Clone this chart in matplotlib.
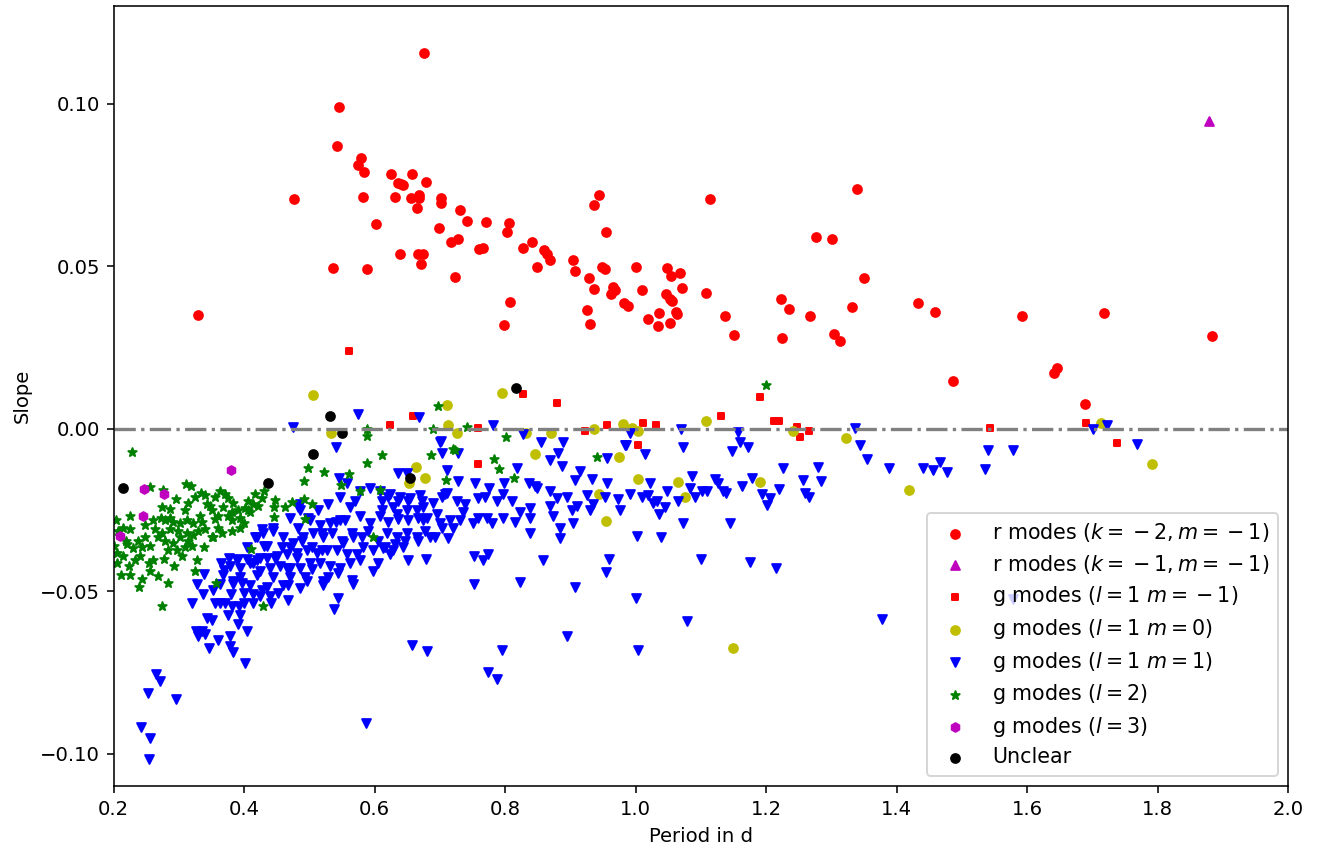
import numpy as np
import matplotlib
matplotlib.use("Agg")
import matplotlib.pyplot as plt

# (period in d, slope), one list per mode class
r_k2 = [
    (0.330, 0.0348), (0.477, 0.0705), (0.536, 0.0495), (0.543, 0.0868), (0.546, 0.0988),
    (0.579, 0.0831), (0.575, 0.0812), (0.584, 0.0788), (0.582, 0.0711), (0.589, 0.0492),
    (0.602, 0.0628), (0.625, 0.0782), (0.631, 0.0711), (0.636, 0.0754), (0.641, 0.0751),
    (0.644, 0.0748), (0.639, 0.0538), (0.657, 0.0782), (0.656, 0.0708), (0.668, 0.0717),
    (0.668, 0.0708), (0.665, 0.0680), (0.667, 0.0538), (0.674, 0.0538), (0.671, 0.0505),
    (0.676, 0.1157), (0.679, 0.0760), (0.699, 0.0618), (0.702, 0.0708), (0.702, 0.0695),
    (0.717, 0.0575), (0.723, 0.0465), (0.728, 0.0582), (0.731, 0.0671), (0.742, 0.0637),
    (0.760, 0.0551), (0.766, 0.0554), (0.771, 0.0634), (0.798, 0.0317), (0.803, 0.0606),
    (0.806, 0.0631), (0.808, 0.0388), (0.828, 0.0554), (0.841, 0.0575), (0.849, 0.0498),
    (0.860, 0.0548), (0.864, 0.0538), (0.869, 0.0520), (0.904, 0.0520), (0.907, 0.0486),
    (0.926, 0.0366), (0.929, 0.0462), (0.930, 0.0323), (0.937, 0.0428), (0.937, 0.0689),
    (0.944, 0.0720), (0.949, 0.0498), (0.953, 0.0492), (0.955, 0.0606), (0.962, 0.0415),
    (0.966, 0.0434), (0.969, 0.0425), (0.982, 0.0385), (0.989, 0.0378), (1.001, 0.0498),
    (1.010, 0.0425), (1.019, 0.0338), (1.035, 0.0314), (1.036, 0.0354), (1.047, 0.0415),
    (1.049, 0.0495), (1.053, 0.0400), (1.053, 0.0326), (1.054, 0.0468), (1.056, 0.0391),
    (1.062, 0.0357), (1.064, 0.0351), (1.068, 0.0480), (1.071, 0.0431), (1.108, 0.0418),
    (1.114, 0.0705), (1.137, 0.0345), (1.151, 0.0289), (1.223, 0.0397), (1.224, 0.0280),
    (1.235, 0.0369), (1.267, 0.0345), (1.277, 0.0588), (1.301, 0.0582), (1.304, 0.0292),
    (1.313, 0.0268), (1.332, 0.0375), (1.339, 0.0738), (1.350, 0.0462), (1.433, 0.0385),
    (1.459, 0.0357), (1.487, 0.0145), (1.592, 0.0345), (1.642, 0.0172), (1.646, 0.0185),
    (1.689, 0.0074), (1.718, 0.0354), (1.884, 0.0286),
]

r_k1 = [(1.879, 0.0945)]

g_l1_mm1 = [
    (0.561, 0.0240), (0.624, 0.0010), (0.659, 0.0037), (0.759, 0.0003), (0.759, -0.0108),
    (0.828, 0.0105), (0.880, 0.0080), (0.923, -0.0009), (0.956, 0.0012), (1.004, -0.0052),
    (1.012, 0.0018), (1.032, 0.0012), (1.131, 0.0040), (1.191, 0.0098), (1.212, 0.0022),
    (1.220, 0.0022), (1.247, 0.0006), (1.252, -0.0025), (1.266, -0.0009), (1.543, 0.0003),
    (1.690, 0.0018), (1.738, -0.0046),
]

g_l1_m0 = [
    (0.506, 0.0102), (0.534, -0.0013), (0.653, -0.0169), (0.664, -0.0117), (0.678, -0.0151),
    (0.711, 0.0071), (0.713, 0.0012), (0.727, -0.0015), (0.796, 0.0108), (0.832, -0.0015),
    (0.846, -0.0077), (0.871, -0.0015), (0.937, -0.0003), (0.944, -0.0203), (0.955, -0.0286),
    (0.975, -0.0089), (0.981, 0.0015), (0.995, 0.0003), (1.004, -0.0009), (1.004, -0.0154),
    (1.065, -0.0166), (1.076, -0.0212), (1.108, 0.0022), (1.149, -0.0674), (1.191, -0.0166),
    (1.241, -0.0009), (1.323, -0.0028), (1.419, -0.0188), (1.713, 0.0018), (1.792, -0.0108),
]

g_l1_m1 = [
    (0.265, -0.0754), (0.271, -0.0778), (0.253, -0.0815), (0.296, -0.0831), (0.242, -0.0917),
    (0.256, -0.0951), (0.254, -0.1018), (0.402, -0.0723), (0.587, -0.0905), (0.658, -0.0665),
    (0.680, -0.0686), (0.320, -0.0538), (0.326, -0.0622), (0.336, -0.0622), (0.340, -0.0631),
    (0.330, -0.0637), (0.346, -0.0674), (0.360, -0.0652), (0.379, -0.0637), (0.379, -0.0668),
    (0.383, -0.0689), (0.405, -0.0622), (0.343, -0.0582), (0.351, -0.0588), (0.375, -0.0575),
    (0.394, -0.0575), (0.391, -0.0600), (0.328, -0.0477), (0.339, -0.0449), (0.337, -0.0508),
    (0.356, -0.0538), (0.363, -0.0538), (0.371, -0.0538), (0.382, -0.0545), (0.392, -0.0545),
    (0.400, -0.0538), (0.414, -0.0538), (0.441, -0.0538), (0.467, -0.0529), (0.365, -0.0415),
    (0.368, -0.0452), (0.363, -0.0477), (0.383, -0.0468), (0.380, -0.0508), (0.397, -0.0474),
    (0.400, -0.0505), (0.414, -0.0508), (0.427, -0.0498), (0.440, -0.0514), (0.452, -0.0505),
    (0.377, -0.0397), (0.391, -0.0403), (0.405, -0.0366), (0.417, -0.0335), (0.428, -0.0308),
    (0.444, -0.0305), (0.431, -0.0360), (0.425, -0.0397), (0.414, -0.0415), (0.448, -0.0397),
    (0.458, -0.0366), (0.466, -0.0428), (0.481, -0.0397), (0.467, -0.0483), (0.494, -0.0458),
    (0.521, -0.0483), (0.504, -0.0431), (0.529, -0.0458), (0.471, -0.0366), (0.489, -0.0345),
    (0.504, -0.0366), (0.520, -0.0375), (0.544, -0.0446), (0.538, -0.0554), (0.544, -0.0520),
    (0.565, -0.0465), (0.605, -0.0415), (0.651, -0.0406), (0.679, -0.0400), (0.471, -0.0274),
    (0.483, -0.0243), (0.483, -0.0305), (0.498, -0.0274), (0.514, -0.0252), (0.529, -0.0231),
    (0.541, -0.0289), (0.555, -0.0283), (0.562, -0.0240), (0.570, -0.0222), (0.578, -0.0268),
    (0.520, -0.0323), (0.535, -0.0323), (0.550, -0.0345), (0.565, -0.0323), (0.581, -0.0335),
    (0.590, -0.0314), (0.612, -0.0222), (0.621, -0.0212), (0.636, -0.0222), (0.651, -0.0222),
    (0.612, -0.0252), (0.628, -0.0243), (0.621, -0.0289), (0.636, -0.0277), (0.651, -0.0283),
    (0.667, -0.0274), (0.605, -0.0345), (0.616, -0.0366), (0.631, -0.0354), (0.647, -0.0345),
    (0.667, -0.0345), (0.677, -0.0314), (0.693, -0.0335), (0.703, -0.0305), (0.673, -0.0222),
    (0.690, -0.0228), (0.703, -0.0212), (0.711, -0.0197), (0.636, -0.0138), (0.650, -0.0138),
    (0.711, -0.0129), (0.702, -0.0037), (0.703, -0.0074), (0.575, 0.0046), (0.475, 0.0006),
    (0.541, -0.0058), (0.546, -0.0151), (0.668, 0.0034), (0.486, -0.0252), (0.501, -0.0283),
    (0.517, -0.0298), (0.532, -0.0292), (0.547, -0.0283), (0.593, -0.0292), (0.609, -0.0268),
    (0.624, -0.0200), (0.639, -0.0212), (0.654, -0.0215), (0.670, -0.0206), (0.634, -0.0262),
    (0.650, -0.0252), (0.665, -0.0252), (0.674, -0.0283), (0.619, -0.0323), (0.634, -0.0335),
    (0.650, -0.0323), (0.665, -0.0335), (0.429, -0.0323), (0.445, -0.0314), (0.420, -0.0335),
    (0.435, -0.0360), (0.460, -0.0335), (0.475, -0.0351), (0.491, -0.0335), (0.506, -0.0320),
    (0.521, -0.0335), (0.552, -0.0351), (0.567, -0.0335), (0.582, -0.0366), (0.598, -0.0375),
    (0.613, -0.0369), (0.628, -0.0375), (0.644, -0.0366), (0.573, -0.0385), (0.558, -0.0385),
    (0.543, -0.0375), (0.527, -0.0375), (0.512, -0.0382), (0.496, -0.0375), (0.481, -0.0382),
    (0.466, -0.0385), (0.451, -0.0391), (0.435, -0.0397), (0.420, -0.0406), (0.405, -0.0400),
    (0.389, -0.0406), (0.379, -0.0422), (0.394, -0.0428), (0.409, -0.0415), (0.425, -0.0437),
    (0.440, -0.0428), (0.455, -0.0422), (0.471, -0.0428), (0.486, -0.0428), (0.501, -0.0415),
    (0.517, -0.0415), (0.532, -0.0422), (0.547, -0.0428), (0.562, -0.0415), (0.578, -0.0406),
    (0.521, -0.0468), (0.496, -0.0468), (0.471, -0.0458), (0.445, -0.0458), (0.420, -0.0452),
    (0.394, -0.0458), (0.370, -0.0435), (0.383, -0.0477), (0.409, -0.0483), (0.435, -0.0489),
    (0.460, -0.0483), (0.486, -0.0492), (0.425, -0.0514), (0.353, -0.0498), (0.567, -0.0477),
    (0.598, -0.0437), (0.624, -0.0385), (0.674, -0.0243), (0.593, -0.0182), (0.609, -0.0191),
    (0.578, -0.0191), (0.547, -0.0212), (0.558, -0.0169), (0.486, -0.0231), (0.700, -0.0043),
    (0.728, -0.0074), (0.728, -0.0163), (0.754, -0.0169), (0.776, -0.0182), (0.799, -0.0169),
    (0.819, -0.0120), (0.836, -0.0169), (0.846, -0.0178), (0.855, -0.0043), (0.869, -0.0098),
    (0.881, -0.0074), (0.887, -0.0114), (0.915, -0.0132), (0.907, -0.0157), (0.933, -0.0154),
    (0.869, -0.0191), (0.889, -0.0043), (0.956, -0.0092), (0.956, -0.0169), (0.984, -0.0052),
    (1.015, -0.0077), (1.022, -0.0169), (0.708, -0.0200), (0.726, -0.0222), (0.739, -0.0231),
    (0.759, -0.0215), (0.770, -0.0212), (0.788, -0.0222), (0.797, -0.0200), (0.811, -0.0222),
    (0.823, -0.0258), (0.838, -0.0246), (0.849, -0.0182), (0.869, -0.0237), (0.880, -0.0215),
    (0.895, -0.0212), (0.910, -0.0237), (0.926, -0.0206), (0.935, -0.0231), (0.953, -0.0212),
    (0.973, -0.0218), (0.992, -0.0200), (1.010, -0.0212), (1.027, -0.0228), (0.696, -0.0262),
    (0.716, -0.0283), (0.736, -0.0258), (0.759, -0.0274), (0.780, -0.0292), (0.797, -0.0274),
    (0.815, -0.0289), (0.838, -0.0274), (0.874, -0.0268), (0.884, -0.0305), (0.903, -0.0252),
    (0.930, -0.0252), (0.976, -0.0252), (0.752, -0.0391), (0.766, -0.0406), (0.774, -0.0385),
    (0.838, -0.0323), (0.884, -0.0338), (0.904, -0.0292), (1.002, -0.0332), (0.858, -0.0406),
    (0.960, -0.0400), (0.955, -0.0443), (0.752, -0.0477), (0.823, -0.0471), (0.907, -0.0489),
    (1.001, -0.0520), (0.680, -0.0274), (0.700, -0.0292), (0.720, -0.0305), (0.685, -0.0335),
    (0.713, -0.0338), (0.731, -0.0283), (0.751, -0.0292), (0.772, -0.0274), (0.796, -0.0683),
    (0.774, -0.0748), (0.788, -0.0772), (0.895, -0.0637), (1.004, -0.0680), (1.079, -0.0591),
    (1.100, -0.0403), (1.039, -0.0335), (1.073, -0.0292), (1.145, -0.0292), (1.175, -0.0412),
    (0.992, -0.0015), (0.986, -0.0052), (1.073, -0.0058), (1.070, -0.0003), (1.157, -0.0012),
    (1.160, -0.0043), (1.148, -0.0068), (1.172, -0.0058), (1.087, -0.0145), (1.084, -0.0182),
    (1.102, -0.0191), (1.109, -0.0191), (1.122, -0.0154), (1.134, -0.0191), (1.163, -0.0178),
    (1.091, -0.0212), (1.065, -0.0222), (1.048, -0.0191), (1.019, -0.0206), (1.033, -0.0222),
    (1.045, -0.0243), (1.036, -0.0262), (1.226, -0.0120), (1.280, -0.0117), (1.257, -0.0157),
    (1.284, -0.0163), (1.260, -0.0197), (1.266, -0.0212), (1.179, -0.0151), (1.127, -0.0169),
    (1.139, -0.0197), (1.220, -0.0185), (1.194, -0.0200), (1.206, -0.0215), (1.201, -0.0234),
    (1.216, -0.0428), (1.378, -0.0585), (1.336, 0.0003), (1.344, -0.0052), (1.355, -0.0095),
    (1.389, -0.0120), (1.441, -0.0123), (1.456, -0.0129), (1.467, -0.0102), (1.478, -0.0135),
    (1.540, -0.0065), (1.579, -0.0065), (1.536, -0.0126), (1.578, -0.0526), (1.701, -0.0003),
    (1.723, 0.0012), (1.769, -0.0049), (0.828, -0.0018), (0.781, 0.0012),
]

g_l2 = [
    (0.228, -0.0071), (0.256, -0.0181), (0.276, -0.0188), (0.697, 0.0068), (0.690, 0.0000),
    (0.589, 0.0000), (0.589, -0.0022), (0.612, -0.0080), (0.589, -0.0105), (0.687, -0.0083),
    (0.720, -0.0062), (0.498, -0.0120), (0.523, -0.0135), (0.492, -0.0160), (0.561, -0.0141),
    (0.548, -0.0175), (0.578, -0.0193), (0.609, -0.0188), (0.710, -0.0157), (0.448, -0.0221),
    (0.446, -0.0243), (0.474, -0.0225), (0.463, -0.0243), (0.492, -0.0218), (0.504, -0.0231),
    (0.446, -0.0271), (0.494, -0.0277), (0.598, -0.0335), (0.411, -0.0372), (0.357, -0.0474),
    (0.429, -0.0545), (0.274, -0.0545), (0.742, 0.0006), (0.802, -0.0025), (0.723, -0.0065),
    (0.783, -0.0095), (0.791, -0.0126), (0.814, -0.0151), (0.941, -0.0089), (1.200, 0.0135),
    (0.311, -0.0172), (0.319, -0.0178), (0.334, -0.0197), (0.325, -0.0212), (0.296, -0.0218),
    (0.314, -0.0228), (0.274, -0.0243), (0.287, -0.0249), (0.225, -0.0268), (0.261, -0.0280),
    (0.273, -0.0274), (0.279, -0.0283), (0.287, -0.0274), (0.291, -0.0289), (0.302, -0.0292),
    (0.313, -0.0283), (0.322, -0.0292), (0.336, -0.0289), (0.343, -0.0231), (0.356, -0.0212),
    (0.371, -0.0200), (0.375, -0.0215), (0.383, -0.0228), (0.417, -0.0203), (0.414, -0.0231),
    (0.402, -0.0246), (0.391, -0.0252), (0.382, -0.0258), (0.368, -0.0243), (0.351, -0.0252),
    (0.356, -0.0277), (0.382, -0.0283), (0.394, -0.0274), (0.409, -0.0258), (0.400, -0.0292),
    (0.360, -0.0305), (0.353, -0.0335), (0.339, -0.0366), (0.328, -0.0406), (0.293, -0.0422),
    (0.277, -0.0400), (0.261, -0.0406), (0.254, -0.0415), (0.241, -0.0391), (0.230, -0.0369),
    (0.221, -0.0354), (0.225, -0.0308), (0.215, -0.0305), (0.207, -0.0314), (0.205, -0.0382),
    (0.215, -0.0391), (0.224, -0.0422), (0.212, -0.0452), (0.225, -0.0452), (0.244, -0.0462),
    (0.268, -0.0455), (0.284, -0.0474), (0.239, -0.0489), (0.238, -0.0345), (0.248, -0.0335),
    (0.244, -0.0366), (0.268, -0.0335), (0.279, -0.0345), (0.291, -0.0351), (0.302, -0.0335),
    (0.310, -0.0366), (0.314, -0.0345), (0.320, -0.0360), (0.297, -0.0375), (0.284, -0.0375),
    (0.305, -0.0391), (0.274, -0.0320), (0.287, -0.0308), (0.299, -0.0314), (0.313, -0.0320),
    (0.322, -0.0329), (0.330, -0.0314), (0.340, -0.0308), (0.351, -0.0335), (0.366, -0.0323),
    (0.382, -0.0314), (0.394, -0.0305), (0.205, -0.0415), (0.406, -0.0252), (0.348, -0.0237),
    (0.360, -0.0268), (0.333, -0.0268), (0.310, -0.0252), (0.256, -0.0360), (0.233, -0.0406),
    (0.340, -0.0206), (0.363, -0.0191), (0.428, -0.0215), (0.431, -0.0191), (0.248, -0.0298),
    (0.264, -0.0308), (0.219, -0.0345), (0.201, -0.0360), (0.406, -0.0222), (0.421, -0.0237),
    (0.375, -0.0268), (0.325, -0.0437), (0.256, -0.0437), (0.204, -0.0283),
]

g_l3 = [(0.210, -0.0332), (0.245, -0.0268), (0.247, -0.0187), (0.277, -0.0200), (0.380, -0.0129)]

unclear = [(0.215, -0.0184), (0.437, -0.0169), (0.506, -0.0077), (0.532, 0.0040),
           (0.550, -0.0015), (0.654, -0.0151), (0.817, 0.0126)]

fig = plt.figure(figsize=(1317 / 141, 849 / 141), dpi=141)
ax = fig.add_axes([0.0862, 0.0742, 0.978 - 0.0862, 0.9929 - 0.0742])


def scat(pts, color, marker, size, label):
    arr = np.array(pts)
    ax.scatter(arr[:, 0], arr[:, 1], c=color, marker=marker, s=size, label=label)


# "{}" before the minus keeps the old binary-minus spacing ("= − 2")
scat(r_k2, 'r', 'o', 20, r'r modes ($k = {}-2, m = {}-1$)')
scat(r_k1, 'm', '^', 20, r'r modes ($k = {}-1, m = {}-1$)')
scat(g_l1_mm1, 'r', 's', 12, r'g modes ($l = 1$ $m = {}-1$)')
scat(g_l1_m0, 'y', 'o', 20, r'g modes ($l = 1$ $m = 0$)')
scat(g_l1_m1, 'b', 'v', 20, r'g modes ($l = 1$ $m = 1$)')
scat(g_l2, 'g', '*', 20, r'g modes ($l = 2$)')
scat(g_l3, 'm', 'h', 20, r'g modes ($l = 3$)')
scat(unclear, 'k', 'o', 20, 'Unclear')

ax.axhline(0, color='gray', linestyle='-.', linewidth=1.7)

ax.set_xlim(0.2, 2.0)
ax.set_ylim(-0.11, 0.13)
ax.set_xticks(np.arange(0.2, 2.01, 0.2))
ax.set_yticks([-0.10, -0.05, 0.0, 0.05, 0.10])
ax.set_xlabel("Period in d")
ax.set_ylabel("Slope")
ax.legend(loc='lower right', scatterpoints=1, fontsize=10.5, labelspacing=0.42)

fig.savefig("out.png", dpi=141)
